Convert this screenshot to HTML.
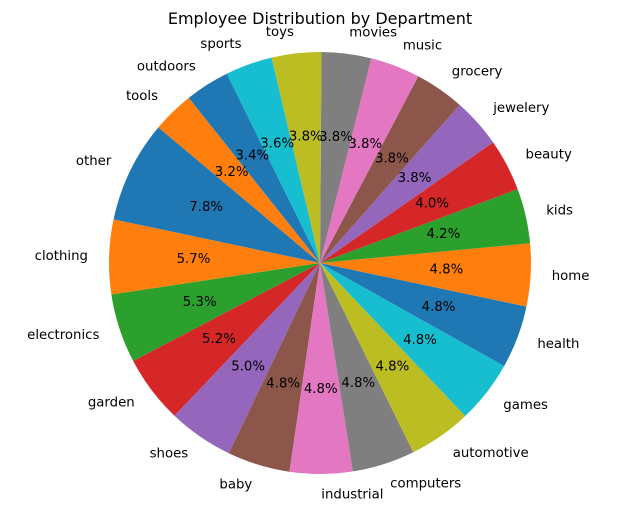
<!DOCTYPE html>
<html><head><meta charset="utf-8"><style>
body{margin:0;background:#fff;}
text{font-family:"DejaVu Sans","Liberation Sans",sans-serif;}
</style></head><body>
<svg id="chart" width="640" height="511" xmlns="http://www.w3.org/2000/svg">
<rect width="640" height="511" fill="#fff"/>
<text x="320" y="24" text-anchor="middle" font-size="16">Employee Distribution by Department</text>
<g id="slices"></g>
</svg>
<script>
const categories = ["other","clothing","electronics","garden","shoes","baby","industrial","computers","automotive","games","health","home","kids","beauty","jewelery","grocery","music","movies","toys","sports","outdoors","tools"];
const values = [7.8,5.7,5.3,5.2,5.0,4.8,4.8,4.8,4.8,4.8,4.8,4.8,4.2,4.0,3.8,3.8,3.8,3.8,3.8,3.6,3.4,3.2];
const colors = ["#1f77b4","#ff7f0e","#2ca02c","#d62728","#9467bd","#8c564b","#e377c2","#7f7f7f","#bcbd22","#17becf"];
const cx=320, cy=263, r=211, startAngle=140;
const ns="http://www.w3.org/2000/svg";
const g=document.getElementById('slices');
const total=values.reduce((a,b)=>a+b,0);
let a0=startAngle;
function pt(deg,rad){const t=deg*Math.PI/180;return [cx+rad*Math.cos(t), cy-rad*Math.sin(t)];}
values.forEach((v,i)=>{
  const span=v/total*360, a1=a0+span;
  const p0=pt(a0,r), p1=pt(a1,r);
  const path=document.createElementNS(ns,'path');
  path.setAttribute('d',`M${cx},${cy} L${p0[0]},${p0[1]} A${r},${r} 0 ${span>180?1:0} 0 ${p1[0]},${p1[1]} Z`);
  path.setAttribute('fill',colors[i%10]);
  
  
  g.appendChild(path);
  const mid=(a0+a1)/2;
  const lp=pt(mid,r*1.1);
  const lt=document.createElementNS(ns,'text');
  lt.setAttribute('x',lp[0]);lt.setAttribute('y',lp[1]);
  lt.setAttribute('font-size','13.3');
  lt.setAttribute('dominant-baseline','central');
  lt.setAttribute('text-anchor',Math.cos(mid*Math.PI/180)>=0?'start':'end');
  lt.textContent=categories[i];
  
  
  g.appendChild(lt);
  const pp=pt(mid,r*0.6);
  const pt2=document.createElementNS(ns,'text');
  pt2.setAttribute('x',pp[0]);pt2.setAttribute('y',pp[1]);
  pt2.setAttribute('font-size','13.3');
  pt2.setAttribute('dominant-baseline','central');
  pt2.setAttribute('text-anchor','middle');
  pt2.textContent=(v/total*100).toFixed(1)+'%';
  
  
  g.appendChild(pt2);
  a0=a1;
});
</script>
</body></html>
